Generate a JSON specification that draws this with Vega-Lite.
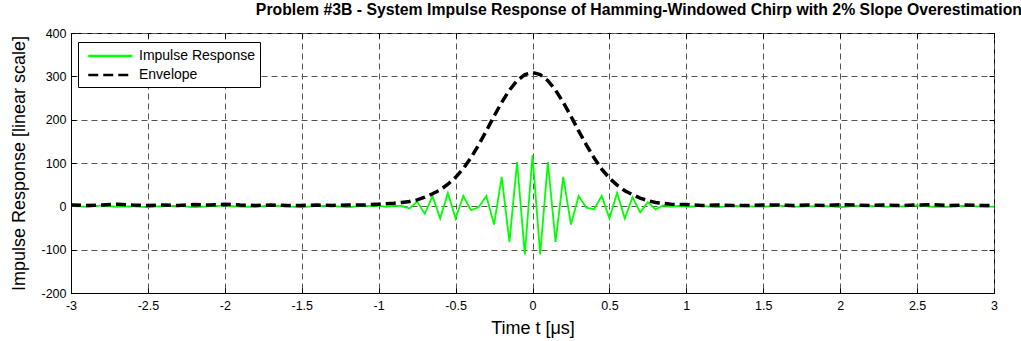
{
  "$schema": "https://vega.github.io/schema/vega-lite/v6.json",
  "width": 923,
  "height": 260,
  "autosize": {"type": "none"},
  "padding": {"left": 71, "top": 33, "right": 27, "bottom": 48},
  "background": "white",
  "config": {
    "view": {"stroke": "black", "strokeWidth": 1},
    "font": "Liberation Sans",
    "axis": {
      "labelFont": "Liberation Sans", "labelFontSize": 12.5, "labelColor": "black",
      "titleFont": "Liberation Sans", "titleFontSize": 18, "titleFontWeight": "normal", "titleColor": "black",
      "domainColor": "black", "tickColor": "black", "tickSize": -5, "tickWidth": 1,
      "gridColor": "#555555", "gridDash": [6, 4], "gridWidth": 1, "gridOpacity": 1
    }
  },
  "title": {
    "text": "Problem #3B - System Impulse Response of Hamming-Windowed Chirp with 2% Slope Overestimation",
    "font": "Liberation Sans", "fontSize": 15.8, "fontWeight": "bold", "color": "black",
    "anchor": "end", "dx": 21, "offset": 8
  },
  "datasets": {
    "imp": [
      {"t": -3.0, "v": 1, "s": "Impulse Response"}, {"t": -2.9, "v": -1, "s": "Impulse Response"},
      {"t": -2.8, "v": 2, "s": "Impulse Response"}, {"t": -2.7, "v": -1, "s": "Impulse Response"},
      {"t": -2.6, "v": 0, "s": "Impulse Response"}, {"t": -2.5, "v": -2, "s": "Impulse Response"},
      {"t": -2.4, "v": 1, "s": "Impulse Response"}, {"t": -2.3, "v": 1, "s": "Impulse Response"},
      {"t": -2.2, "v": -2, "s": "Impulse Response"}, {"t": -2.1, "v": 0, "s": "Impulse Response"},
      {"t": -2.0, "v": 2, "s": "Impulse Response"}, {"t": -1.9, "v": -1, "s": "Impulse Response"},
      {"t": -1.8, "v": -1, "s": "Impulse Response"}, {"t": -1.7, "v": 2, "s": "Impulse Response"},
      {"t": -1.6, "v": 0, "s": "Impulse Response"}, {"t": -1.5, "v": -2, "s": "Impulse Response"},
      {"t": -1.4, "v": 1, "s": "Impulse Response"}, {"t": -1.3, "v": 1, "s": "Impulse Response"},
      {"t": -1.2, "v": -2, "s": "Impulse Response"}, {"t": -1.1, "v": 1, "s": "Impulse Response"},
      {"t": -1.0, "v": 1, "s": "Impulse Response"}, {"t": -0.95, "v": -1, "s": "Impulse Response"},
      {"t": -0.9, "v": 1, "s": "Impulse Response"}, {"t": -0.85, "v": 1, "s": "Impulse Response"},
      {"t": -0.8, "v": -5, "s": "Impulse Response"}, {"t": -0.75, "v": 11, "s": "Impulse Response"},
      {"t": -0.7, "v": -17, "s": "Impulse Response"}, {"t": -0.65, "v": 24, "s": "Impulse Response"},
      {"t": -0.6, "v": -28, "s": "Impulse Response"}, {"t": -0.55, "v": 31, "s": "Impulse Response"},
      {"t": -0.5, "v": -28, "s": "Impulse Response"}, {"t": -0.45, "v": 24, "s": "Impulse Response"},
      {"t": -0.4, "v": -9, "s": "Impulse Response"}, {"t": -0.35, "v": -2, "s": "Impulse Response"},
      {"t": -0.3, "v": 24, "s": "Impulse Response"}, {"t": -0.25, "v": -42, "s": "Impulse Response"},
      {"t": -0.2, "v": 68, "s": "Impulse Response"}, {"t": -0.15, "v": -82, "s": "Impulse Response"},
      {"t": -0.1, "v": 102, "s": "Impulse Response"}, {"t": -0.05, "v": -111, "s": "Impulse Response"},
      {"t": 0.0, "v": 118, "s": "Impulse Response"}, {"t": 0.05, "v": -111, "s": "Impulse Response"},
      {"t": 0.1, "v": 102, "s": "Impulse Response"}, {"t": 0.15, "v": -82, "s": "Impulse Response"},
      {"t": 0.2, "v": 68, "s": "Impulse Response"}, {"t": 0.25, "v": -42, "s": "Impulse Response"},
      {"t": 0.3, "v": 24, "s": "Impulse Response"}, {"t": 0.35, "v": -3, "s": "Impulse Response"},
      {"t": 0.4, "v": -7, "s": "Impulse Response"}, {"t": 0.45, "v": 24, "s": "Impulse Response"},
      {"t": 0.5, "v": -28, "s": "Impulse Response"}, {"t": 0.55, "v": 31, "s": "Impulse Response"},
      {"t": 0.6, "v": -28, "s": "Impulse Response"}, {"t": 0.65, "v": 21, "s": "Impulse Response"},
      {"t": 0.7, "v": -14, "s": "Impulse Response"}, {"t": 0.75, "v": 10, "s": "Impulse Response"},
      {"t": 0.8, "v": -7, "s": "Impulse Response"}, {"t": 0.85, "v": 2, "s": "Impulse Response"},
      {"t": 0.9, "v": -1, "s": "Impulse Response"}, {"t": 0.95, "v": 1, "s": "Impulse Response"},
      {"t": 1.0, "v": -1, "s": "Impulse Response"}, {"t": 1.1, "v": 1, "s": "Impulse Response"},
      {"t": 1.2, "v": -2, "s": "Impulse Response"}, {"t": 1.3, "v": 1, "s": "Impulse Response"},
      {"t": 1.4, "v": 0, "s": "Impulse Response"}, {"t": 1.5, "v": -1, "s": "Impulse Response"},
      {"t": 1.6, "v": 2, "s": "Impulse Response"}, {"t": 1.7, "v": -1, "s": "Impulse Response"},
      {"t": 1.8, "v": 0, "s": "Impulse Response"}, {"t": 1.9, "v": 1, "s": "Impulse Response"},
      {"t": 2.0, "v": -2, "s": "Impulse Response"}, {"t": 2.1, "v": 1, "s": "Impulse Response"},
      {"t": 2.2, "v": 1, "s": "Impulse Response"}, {"t": 2.3, "v": -1, "s": "Impulse Response"},
      {"t": 2.4, "v": 0, "s": "Impulse Response"}, {"t": 2.5, "v": 2, "s": "Impulse Response"},
      {"t": 2.6, "v": -1, "s": "Impulse Response"}, {"t": 2.7, "v": -1, "s": "Impulse Response"},
      {"t": 2.8, "v": 1, "s": "Impulse Response"}, {"t": 2.9, "v": 0, "s": "Impulse Response"},
      {"t": 3.0, "v": -1, "s": "Impulse Response"}
    ],
    "env": [
      {"t": -3.0, "v": 3, "s": "Envelope"}, {"t": -2.9, "v": 2, "s": "Envelope"},
      {"t": -2.8, "v": 3, "s": "Envelope"}, {"t": -2.7, "v": 5, "s": "Envelope"},
      {"t": -2.6, "v": 3, "s": "Envelope"}, {"t": -2.5, "v": 2, "s": "Envelope"},
      {"t": -2.4, "v": 3, "s": "Envelope"}, {"t": -2.3, "v": 2, "s": "Envelope"},
      {"t": -2.2, "v": 4, "s": "Envelope"}, {"t": -2.1, "v": 3, "s": "Envelope"},
      {"t": -2.0, "v": 5, "s": "Envelope"}, {"t": -1.9, "v": 3, "s": "Envelope"},
      {"t": -1.8, "v": 2, "s": "Envelope"}, {"t": -1.7, "v": 3, "s": "Envelope"},
      {"t": -1.6, "v": 2, "s": "Envelope"}, {"t": -1.5, "v": 2, "s": "Envelope"},
      {"t": -1.4, "v": 3, "s": "Envelope"}, {"t": -1.3, "v": 2, "s": "Envelope"},
      {"t": -1.2, "v": 3, "s": "Envelope"}, {"t": -1.1, "v": 3, "s": "Envelope"},
      {"t": -1.0, "v": 5, "s": "Envelope"}, {"t": -0.95, "v": 6, "s": "Envelope"},
      {"t": -0.9, "v": 7, "s": "Envelope"}, {"t": -0.85, "v": 9, "s": "Envelope"},
      {"t": -0.8, "v": 11, "s": "Envelope"}, {"t": -0.75, "v": 15, "s": "Envelope"},
      {"t": -0.7, "v": 21, "s": "Envelope"}, {"t": -0.65, "v": 29, "s": "Envelope"},
      {"t": -0.6, "v": 38, "s": "Envelope"}, {"t": -0.55, "v": 51, "s": "Envelope"},
      {"t": -0.5, "v": 67, "s": "Envelope"}, {"t": -0.45, "v": 87, "s": "Envelope"},
      {"t": -0.4, "v": 112, "s": "Envelope"}, {"t": -0.35, "v": 142, "s": "Envelope"},
      {"t": -0.3, "v": 174, "s": "Envelope"}, {"t": -0.25, "v": 208, "s": "Envelope"},
      {"t": -0.2, "v": 240, "s": "Envelope"}, {"t": -0.15, "v": 268, "s": "Envelope"},
      {"t": -0.1, "v": 290, "s": "Envelope"}, {"t": -0.05, "v": 304, "s": "Envelope"},
      {"t": 0.0, "v": 309, "s": "Envelope"}, {"t": 0.05, "v": 304, "s": "Envelope"},
      {"t": 0.1, "v": 290, "s": "Envelope"}, {"t": 0.15, "v": 268, "s": "Envelope"},
      {"t": 0.2, "v": 240, "s": "Envelope"}, {"t": 0.25, "v": 208, "s": "Envelope"},
      {"t": 0.3, "v": 174, "s": "Envelope"}, {"t": 0.35, "v": 142, "s": "Envelope"},
      {"t": 0.4, "v": 112, "s": "Envelope"}, {"t": 0.45, "v": 86, "s": "Envelope"},
      {"t": 0.5, "v": 65, "s": "Envelope"}, {"t": 0.55, "v": 49, "s": "Envelope"},
      {"t": 0.6, "v": 36, "s": "Envelope"}, {"t": 0.65, "v": 27, "s": "Envelope"},
      {"t": 0.7, "v": 19, "s": "Envelope"}, {"t": 0.75, "v": 13, "s": "Envelope"},
      {"t": 0.8, "v": 9, "s": "Envelope"}, {"t": 0.85, "v": 7, "s": "Envelope"},
      {"t": 0.9, "v": 5, "s": "Envelope"}, {"t": 0.95, "v": 4, "s": "Envelope"},
      {"t": 1.0, "v": 4, "s": "Envelope"}, {"t": 1.1, "v": 2, "s": "Envelope"},
      {"t": 1.2, "v": 3, "s": "Envelope"}, {"t": 1.3, "v": 2, "s": "Envelope"},
      {"t": 1.4, "v": 2, "s": "Envelope"}, {"t": 1.5, "v": 3, "s": "Envelope"},
      {"t": 1.6, "v": 3, "s": "Envelope"}, {"t": 1.7, "v": 2, "s": "Envelope"},
      {"t": 1.8, "v": 3, "s": "Envelope"}, {"t": 1.9, "v": 2, "s": "Envelope"},
      {"t": 2.0, "v": 4, "s": "Envelope"}, {"t": 2.1, "v": 3, "s": "Envelope"},
      {"t": 2.2, "v": 2, "s": "Envelope"}, {"t": 2.3, "v": 3, "s": "Envelope"},
      {"t": 2.4, "v": 2, "s": "Envelope"}, {"t": 2.5, "v": 3, "s": "Envelope"},
      {"t": 2.6, "v": 4, "s": "Envelope"}, {"t": 2.7, "v": 2, "s": "Envelope"},
      {"t": 2.8, "v": 3, "s": "Envelope"}, {"t": 2.9, "v": 2, "s": "Envelope"},
      {"t": 3.0, "v": 2, "s": "Envelope"}
    ]
  },
  "layer": [
    {
      "data": {"name": "imp"},
      "mark": {"type": "line", "strokeWidth": 1.8},
      "encoding": {
        "x": {
          "field": "t", "type": "quantitative",
          "scale": {"domain": [-3, 3], "nice": false, "zero": false},
          "axis": {
            "orient": "bottom", "title": "Time t [μs]",
            "values": [-3, -2.5, -2, -1.5, -1, -0.5, 0, 0.5, 1, 1.5, 2, 2.5, 3],
            "labelExpr": "'' + datum.value", "labelPadding": 11, "titlePadding": 8,
            "grid": true, "labelFlush": false
          }
        },
        "y": {
          "field": "v", "type": "quantitative",
          "scale": {"domain": [-200, 400], "nice": false, "zero": false},
          "axis": {
            "orient": "left", "title": "Impulse Response [linear scale]",
            "values": [-200, -100, 0, 100, 200, 300, 400],
            "labelExpr": "'' + datum.value", "labelPadding": 10, "titlePadding": 12,
            "grid": true
          }
        },
        "stroke": {
          "field": "s", "type": "ordinal",
          "scale": {"domain": ["Impulse Response", "Envelope"], "range": ["#00ff00", "#000000"]},
          "legend": {
            "orient": "none", "legendX": 7, "legendY": 9, "title": null,
            "symbolType": "M -0.5 0 H 5.37", "symbolSize": 225, "symbolStrokeWidth": 2.5,
            "strokeColor": "black", "fillColor": "white", "padding": 5,
            "labelFont": "Liberation Sans", "labelFontSize": 14, "labelColor": "black",
            "labelOffset": 38, "rowPadding": 3
          }
        },
        "strokeDash": {
          "field": "s", "type": "ordinal",
          "scale": {"domain": ["Impulse Response", "Envelope"], "range": [[1, 0], [10, 5]]}
        }
      }
    },
    {
      "data": {"name": "env"},
      "mark": {"type": "line", "strokeWidth": 3.5},
      "encoding": {
        "x": {
          "field": "t", "type": "quantitative",
          "axis": {
            "orient": "top", "title": null, "labels": false, "grid": false, "domain": false,
            "values": [-3, -2.5, -2, -1.5, -1, -0.5, 0, 0.5, 1, 1.5, 2, 2.5, 3]
          }
        },
        "y": {
          "field": "v", "type": "quantitative",
          "axis": {
            "orient": "right", "title": null, "labels": false, "grid": false, "domain": false,
            "values": [-200, -100, 0, 100, 200, 300, 400]
          }
        },
        "stroke": {"field": "s", "type": "ordinal"},
        "strokeDash": {"field": "s", "type": "ordinal"}
      }
    }
  ],
  "resolve": {"axis": {"x": "independent", "y": "independent"}}
}
